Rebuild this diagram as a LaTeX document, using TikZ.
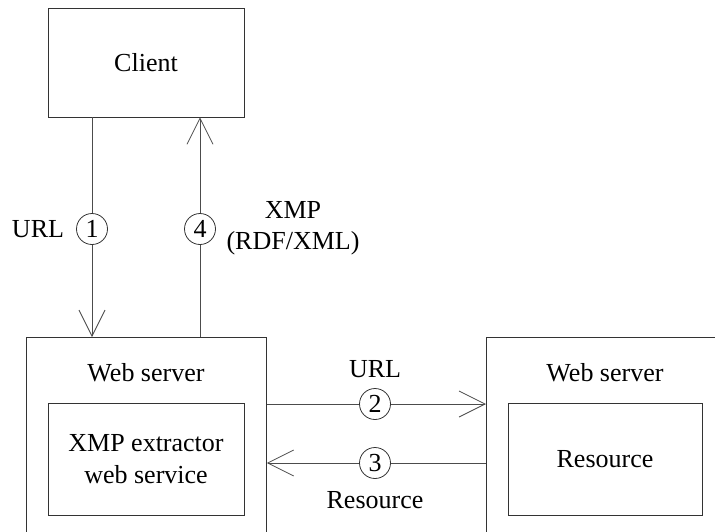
\documentclass[tikz,border=0pt]{standalone}
\usepackage{fontspec}
\setmainfont{Liberation Serif}
\usetikzlibrary{arrows.meta}

\begin{document}
\begin{tikzpicture}[x=1pt,y=-1pt]
\tikzset{box/.style = {shape=rectangle,draw=black!80,line width=0.8pt,inner sep=0pt}}
\tikzset{num/.style = {shape=circle,draw=black!80,line width=0.8pt,minimum size=31pt,inner sep=0pt}}
\tikzset{line/.style = {draw=black!70,line width=0.8pt}}
\tikzset{edge/.style = {line,-{Straight Barb[length=26pt,width=26pt,line width=0.8pt]}}}
\tikzset{every node/.style = {font=\fontsize{26}{32}\selectfont}}
\useasboundingbox (0,0) rectangle (715,531);
\clip (0,0) rectangle (715,531);
% boxes
\node[box,minimum width=196pt,minimum height=109pt] (client) at (146,62.5) {Client};
\node[box,minimum width=240pt,minimum height=230pt,anchor=north west] (srvL) at (26,337) {};
\node[box,minimum width=260pt,minimum height=230pt,anchor=north west] (srvR) at (486,337) {};
\node (srvLtxt) at (146,373) {Web server};
\node (srvRtxt) at (605,373) {Web server};
\node[box,minimum width=196pt,minimum height=112pt,align=center] (extractor) at (146,459) {XMP extractor\\web service};
\node[box,minimum width=194pt,minimum height=112pt] (resource) at (605,459) {Resource};
% step numbers
\node[num] (c1) at (92,229) {1};
\node[num] (c4) at (200,229) {4};
\node[num] (c2) at (375,404) {2};
\node[num] (c3) at (375,463) {3};
% labels
\node (urlA) at (38,229) {URL};
\node[align=center,font=\fontsize{26}{31}\selectfont] (xmp) at (293,228) {XMP\\(RDF/XML)};
\node (urlB) at (375,369) {URL};
\node (res) at (375,500) {Resource};
% edges
\draw[line] (c1 |- client.south) -- (c1);
\draw[edge] (c1) -- (c1 |- srvL.north);
\draw[line] (c4 |- srvL.north) -- (c4);
\draw[edge] (c4) -- (c4 |- client.south);
\draw[line] (c2 -| srvL.east) -- (c2);
\draw[edge] (c2) -- (c2 -| srvR.west);
\draw[line] (c3 -| srvR.west) -- (c3);
\draw[edge] (c3) -- (c3 -| srvL.east);
\end{tikzpicture}
\end{document}
